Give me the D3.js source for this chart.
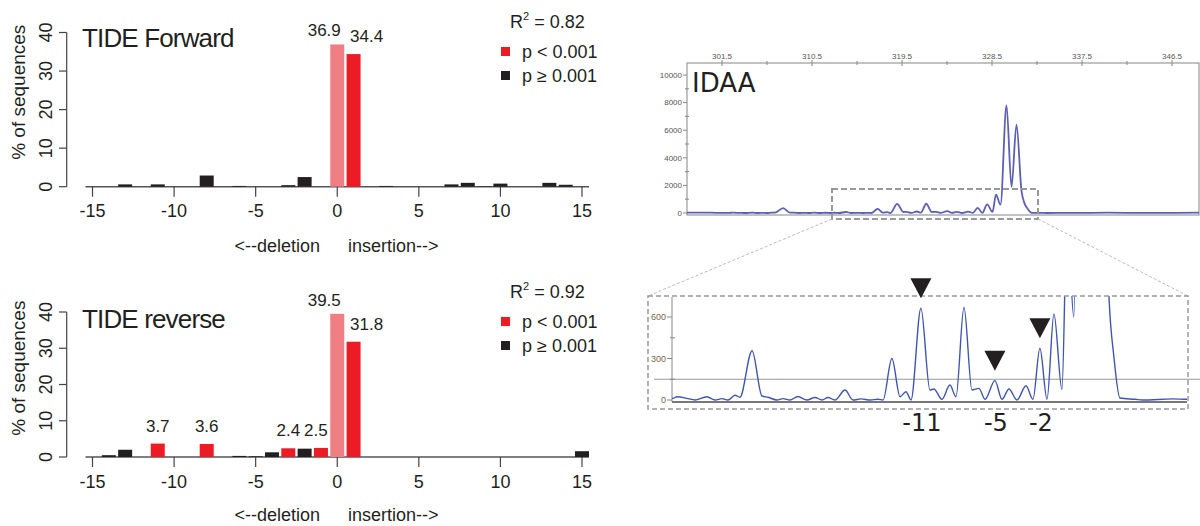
<!DOCTYPE html>
<html>
<head>
  <meta charset="utf-8">
  <title>TIDE vs IDAA</title>
  <style>
    body { margin: 0; background: #fff; }
    text { font-family: "Liberation Sans", Arial, sans-serif; fill: #231f20; }
  </style>
</head>
<body>
  <script src="https://cdn.jsdelivr.net/npm/d3@7"></script>
  <script>
  // ---- TIDE data (indel size -> % of sequences) ----
  const indels = [-15, -14, -13, -12, -11, -10, -9, -8, -7, -6, -5, -4, -3, -2, -1, 0,
                  1, 2, 3, 4, 5, 6, 7, 8, 9, 10, 11, 12, 13, 14, 15];
  const fwdPct = [0, 0, 0.6, 0, 0.6, 0, 0, 2.9, 0, 0.2, 0, 0, 0.4, 2.5, 0, 36.9,
                  34.4, 0, 0.2, 0, 0, 0, 0.6, 1.0, 0.1, 0.8, 0, 0, 1.0, 0.5, 0];
  const revPct = [0, 0.5, 2.0, 0, 3.7, 0, 0, 3.6, 0, 0.3, 0.2, 1.3, 2.4, 2.3, 2.5, 39.5,
                  31.8, 0, 0, 0, 0, 0, 0, 0, 0, 0, 0, 0, 0, 0, 1.6];
  const fwdSig = [1];
  const revSig = [-11, -8, -3, -1, 1];
  const wtIndel = 0;
  const fwdR2 = "0.82";
  const revR2 = "0.92";
  const tideXTicks = [-15, -10, -5, 0, 5, 10, 15];
  const tideYTicks = [0, 10, 20, 30, 40];

  // ---- IDAA data (fragment size -> RFU) ----
  const sizeTicks = [301.5, 310.5, 319.5, 328.5, 337.5, 346.5];
  const sizeMinor = [306, 315, 324, 333, 342];
  const rfuTicks = [0, 2000, 4000, 6000, 8000, 10000];
  const rfuMinor = [1000, 3000, 5000, 7000, 9000];
  const zoomTicks = [0, 300, 600];
  const zoomMinor = [150, 450];
  const threshold = 150;
  const trace = [
    [298.0, 20], [299.5, 30], [301.0, 15], [302.27, 12], [302.54, 24], [303.28, 10],
    [303.75, 0], [304.56, 24], [305.11, 0], [305.58, 10], [305.98, 0], [306.46, 34],
    [306.79, 20], [307.61, 356], [308.28, 29], [308.69, 20], [309.29, 0], [309.70, 10],
    [310.17, 0], [310.71, 25], [311.32, 0], [311.86, 18], [312.34, 0], [312.74, 18],
    [313.21, 0], [313.89, 72], [314.43, 0], [314.97, 8], [315.6, 0], [316.12, 5],
    [316.46, 0], [317.06, 300], [317.61, 24], [318.01, 60], [318.35, 0], [319.02, 663],
    [319.63, 72], [319.90, 80], [320.44, 5], [320.98, 108], [321.39, 24], [321.93, 670],
    [322.47, 72], [322.94, 84], [323.35, 5], [324.02, 140], [324.50, 5], [324.97, 80],
    [325.51, 0], [326.12, 103], [326.59, 5], [327.06, 374], [327.54, 5], [328.01, 622],
    [328.55, 77], [328.9, 1330], [329.35, 600], [329.95, 7800], [330.45, 1900],
    [330.95, 6400], [331.45, 1600], [331.75, 700], [332.06, 313], [332.47, 14],
    [333.5, 5], [334.0, 0], [336.05, 8], [337.0, 5], [340.0, 20], [344.0, 10], [349.2, 20]
  ];
  const markSizes = [319.02, 324.02, 327.06];
  const markLabels = ["-11", "-5", "-2"];

  const red = "#ed1c24", pink = "#f17e82", dark = "#231f20";

  const svg = d3.select("body").append("svg")
    .attr("width", 1200)
    .attr("height", 526);

  const xTide = d3.scaleLinear().domain([-15, 15]).range([92.5, 582]);
  const barW = 14;

  function drawTide(o) {
    const y = d3.scaleLinear().domain([0, 40]).range(o.yRange);
    const g = svg.append("g");
    const rows = indels.map((k, i) => ({ k: k, v: o.pct[i] }));
    const col = d => d.k === wtIndel ? pink : (o.sig.includes(d.k) ? red : dark);

    // baseline
    g.append("line")
      .attr("x1", xTide(-15) - barW / 2).attr("x2", xTide(15) + barW / 2)
      .attr("y1", y(0)).attr("y2", y(0))
      .attr("stroke", "#555").attr("stroke-width", 1.5);

    g.selectAll("rect.bar").data(rows).enter().append("rect")
      .attr("class", "bar")
      .attr("x", d => xTide(d.k) - barW / 2)
      .attr("width", barW)
      .attr("y", d => y(d.v))
      .attr("height", d => y(0) - y(d.v))
      .attr("fill", col);

    // value labels on significant / wt bars
    const nudge = k => k === wtIndel ? -13 : (k === 1 ? 13 : (k === -1 ? -5 : 0));
    g.selectAll("text.val").data(rows.filter(d => d.k === wtIndel || o.sig.includes(d.k)))
      .enter().append("text")
      .attr("class", "val")
      .attr("x", d => xTide(d.k) + nudge(d.k))
      .attr("y", d => y(d.v) - (d.k === wtIndel ? 8 : 12))
      .attr("text-anchor", "middle")
      .attr("font-size", 17)
      .text(d => d.v.toFixed(1));

    // y axis
    g.append("line")
      .attr("x1", 66.7).attr("x2", 66.7)
      .attr("y1", y(0)).attr("y2", y(40))
      .attr("stroke", "#444").attr("stroke-width", 1.2);
    tideYTicks.forEach(t => {
      g.append("line")
        .attr("x1", 59).attr("x2", 66.7)
        .attr("y1", y(t)).attr("y2", y(t))
        .attr("stroke", "#444").attr("stroke-width", 1.2);
      g.append("text")
        .attr("transform", `translate(52,${y(t)}) rotate(-90)`)
        .attr("text-anchor", "middle")
        .attr("font-size", 18)
        .text(t);
    });
    g.append("text")
      .attr("transform", `translate(25,${y(24.5)}) rotate(-90)`)
      .attr("text-anchor", "middle")
      .attr("font-size", 19)
      .text("% of sequences");

    // x axis ticks
    tideXTicks.forEach(t => {
      g.append("line")
        .attr("x1", xTide(t)).attr("x2", xTide(t))
        .attr("y1", y(0)).attr("y2", y(0) + 10)
        .attr("stroke", "#444").attr("stroke-width", 1.2);
      g.append("text")
        .attr("x", xTide(t)).attr("y", o.tickBase)
        .attr("text-anchor", "middle")
        .attr("font-size", 18)
        .text(t);
    });
    g.append("text")
      .attr("x", 320).attr("y", o.labelBase)
      .attr("text-anchor", "end").attr("font-size", 18)
      .text("<--deletion");
    g.append("text")
      .attr("x", 348).attr("y", o.labelBase)
      .attr("font-size", 18)
      .text("insertion-->");

    // title
    g.append("text")
      .attr("x", 82).attr("y", o.titleBase)
      .attr("font-size", 26)
      .attr("letter-spacing", -0.85)
      .text(o.title);

    // legend
    const r2 = g.append("text").attr("x", 510).attr("y", o.legendBase).attr("font-size", 18);
    r2.append("tspan").text("R");
    r2.append("tspan").attr("dy", -8).attr("font-size", 11).text("2");
    r2.append("tspan").attr("dy", 8).text(" = " + o.r2);
    [[red, "p < 0.001"], [dark, "p \u2265 0.001"]].forEach((e, i) => {
      const cy = o.legendBase + 23.5 + i * 24;
      g.append("rect")
        .attr("x", 501).attr("y", cy - 4.5)
        .attr("width", 9).attr("height", 9)
        .attr("fill", e[0]);
      g.append("text")
        .attr("x", 522).attr("y", cy + 6)
        .attr("font-size", 18)
        .text(e[1]);
    });
  }

  drawTide({ pct: fwdPct, sig: fwdSig, title: "TIDE Forward", r2: fwdR2,
             yRange: [186.7, 32.5], tickBase: 217, labelBase: 252, titleBase: 47, legendBase: 28 });
  drawTide({ pct: revPct, sig: revSig, title: "TIDE reverse", r2: revR2,
             yRange: [457, 312], tickBase: 488, labelBase: 521, titleBase: 328, legendBase: 298 });

  // ---- IDAA full trace ----
  const xSize = d3.scaleLinear().domain([298, 349.2]).range([687, 1199]);
  const yRfu = d3.scaleLinear().domain([0, 10000]).range([213, 75]);
  const ig = svg.append("g");
  const frame = { x0: 687, x1: 1199, y0: 63, y1: 215 };

  ig.append("rect")
    .attr("x", frame.x0).attr("y", frame.y0)
    .attr("width", frame.x1 - frame.x0).attr("height", frame.y1 - frame.y0)
    .attr("fill", "none").attr("stroke", "#999").attr("stroke-width", 1.2);

  rfuTicks.forEach(t => {
    ig.append("line").attr("x1", 683).attr("x2", 687)
      .attr("y1", yRfu(t)).attr("y2", yRfu(t)).attr("stroke", "#888");
    ig.append("text").attr("x", 682).attr("y", yRfu(t)).attr("dy", "0.35em")
      .attr("text-anchor", "end").attr("font-size", 8).style("fill", "#555")
      .text(t);
  });
  rfuMinor.forEach(t => {
    ig.append("line").attr("x1", 685).attr("x2", 689)
      .attr("y1", yRfu(t)).attr("y2", yRfu(t)).attr("stroke", "#888");
  });
  sizeTicks.forEach(t => {
    ig.append("line").attr("x1", xSize(t)).attr("x2", xSize(t))
      .attr("y1", 60).attr("y2", 66).attr("stroke", "#888");
    ig.append("text").attr("x", xSize(t)).attr("y", 58.5)
      .attr("text-anchor", "middle").attr("font-size", 8).style("fill", "#555")
      .text(t);
  });
  sizeMinor.forEach(t => {
    ig.append("line").attr("x1", xSize(t)).attr("x2", xSize(t))
      .attr("y1", 61).attr("y2", 65).attr("stroke", "#888");
  });

  const lineTop = d3.line()
    .x(d => xSize(d[0])).y(d => yRfu(d[1]))
    .curve(d3.curveMonotoneX);
  ig.append("path").datum(trace)
    .attr("d", lineTop)
    .attr("fill", "none").attr("stroke", "#5b5fb5").attr("stroke-width", 1.8);

  ig.append("text").attr("x", 692).attr("y", 92)
    .style("font-family", "'DejaVu Sans', sans-serif")
    .attr("font-size", 26).text("IDAA");

  // zoom window on the full trace
  const win = { x0: 312.5, x1: 333.1, y0: -430, y1: 1740 };
  ig.append("rect")
    .attr("x", xSize(win.x0)).attr("y", yRfu(win.y1))
    .attr("width", xSize(win.x1) - xSize(win.x0))
    .attr("height", yRfu(win.y0) - yRfu(win.y1))
    .attr("fill", "none").attr("stroke", "#999").attr("stroke-width", 2)
    .attr("stroke-dasharray", "6,3");

  // ---- inset ----
  const xZoom = d3.scaleLinear().domain([302.2, 337.0]).range([672, 1187]);
  const yZoom = d3.scaleLinear().domain([0, 600]).range([400, 317]);
  const box = { x0: 648, x1: 1188, y0: 296, y1: 409 };

  [[xSize(win.x0), box.x0], [xSize(win.x1), box.x1]].forEach(p => {
    ig.append("line")
      .attr("x1", p[0]).attr("y1", yRfu(win.y0))
      .attr("x2", p[1]).attr("y2", box.y0)
      .attr("stroke", "#bbb").attr("stroke-width", 1).attr("stroke-dasharray", "3,2");
  });

  ig.append("line").attr("x1", 654).attr("x2", 1200)
    .attr("y1", yZoom(threshold)).attr("y2", yZoom(threshold))
    .attr("stroke", "#999").attr("stroke-width", 1);

  ig.append("line").attr("x1", 672).attr("x2", 672)
    .attr("y1", 297).attr("y2", 402).attr("stroke", "#888");
  zoomTicks.forEach(t => {
    ig.append("line").attr("x1", 667).attr("x2", 672)
      .attr("y1", yZoom(t)).attr("y2", yZoom(t)).attr("stroke", "#888");
    ig.append("text").attr("x", 666).attr("y", yZoom(t)).attr("dy", "0.35em")
      .attr("text-anchor", "end").attr("font-size", 9).style("fill", "#7a6252")
      .text(t);
  });
  zoomMinor.forEach(t => {
    ig.append("line").attr("x1", 670).attr("x2", 675)
      .attr("y1", yZoom(t)).attr("y2", yZoom(t)).attr("stroke", "#888");
  });

  svg.append("clipPath").attr("id", "zclip")
    .append("rect").attr("x", 672).attr("y", box.y0)
    .attr("width", 1187 - 672).attr("height", 402 - box.y0);

  const lineZoom = d3.line()
    .x(d => xZoom(d[0])).y(d => yZoom(d[1]))
    .curve(d3.curveMonotoneX);
  ig.append("path")
    .datum(trace.filter(d => d[0] >= 301 && d[0] <= 340))
    .attr("clip-path", "url(#zclip)")
    .attr("d", lineZoom)
    .attr("fill", "none").attr("stroke", "#3f55b3").attr("stroke-width", 1.4);

  ig.append("line").attr("x1", 672).attr("x2", 1187)
    .attr("y1", 402).attr("y2", 402)
    .attr("stroke", "#777").attr("stroke-width", 2);

  ig.append("rect")
    .attr("x", box.x0).attr("y", box.y0)
    .attr("width", box.x1 - box.x0).attr("height", box.y1 - box.y0)
    .attr("fill", "none").attr("stroke", "#999").attr("stroke-width", 1.5)
    .attr("stroke-dasharray", "5,3");

  // peak markers
  const peakAt = s => trace.find(d => d[0] === s)[1];
  markSizes.forEach((s, i) => {
    const cx = xZoom(s), tip = yZoom(peakAt(s)) - 10;
    ig.append("path")
      .attr("d", `M${cx - 10.5},${tip - 20}L${cx + 10.5},${tip - 20}L${cx},${tip}Z`)
      .attr("fill", dark);
    ig.append("text").attr("x", cx + 1).attr("y", 431)
      .attr("text-anchor", "middle")
      .style("font-family", "'DejaVu Sans', sans-serif")
      .attr("font-size", 24)
      .text(markLabels[i]);
  });
  </script>
</body>
</html>
